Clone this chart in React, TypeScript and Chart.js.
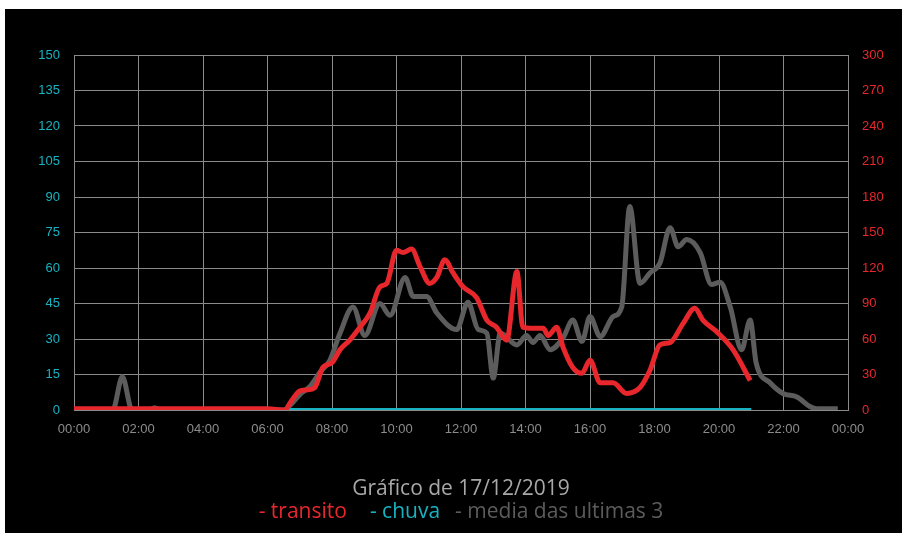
import React, { useEffect, useRef } from "react";
import { Chart, registerables } from "chart.js";

Chart.register(...registerables);

// ---- data ----
const chartTitle = "Gráfico de 17/12/2019";
const legendLabels = ["- transito", "- chuva", "- media das ultimas 3"];

const xTickLabels = ["00:00", "02:00", "04:00", "06:00", "08:00", "10:00", "12:00", "14:00", "16:00", "18:00", "20:00", "22:00", "00:00"];
const leftTicks = [0, 15, 30, 45, 60, 75, 90, 105, 120, 135, 150];
const rightTicks = [0, 30, 60, 90, 120, 150, 180, 210, 240, 270, 300];

const transitoTimes = ["00:00", "02:00", "04:00", "06:00", "06:33", "06:42", "07:00", "07:13", "07:28", "07:43", "08:00", "08:15", "08:33", "08:52", "09:11", "09:29", "09:42", "10:00", "10:12", "10:28", "10:44", "11:02", "11:15", "11:30", "11:45", "12:04", "12:29", "12:48", "13:06", "13:25", "13:44", "13:55", "14:14", "14:33", "14:42", "14:58", "15:10", "15:28", "15:45", "16:00", "16:19", "16:43", "17:08", "17:33", "17:52", "18:10", "18:29", "18:53", "19:15", "19:30", "19:56", "20:26", "20:58"];
const transitoValues = [1, 1, 1, 1, 0, 6, 16, 17, 19, 36, 40, 51, 59, 70, 82, 104, 107, 135, 133, 136, 121, 107, 112, 127, 116, 104, 95, 76, 70, 59, 117, 70, 69, 69, 63, 70, 53, 36, 31, 42, 23, 23, 14, 19, 34, 55, 57, 73, 86, 76, 66, 51, 25];

const chuvaTimes = ["06:36", "07:00", "08:00", "09:00", "10:00", "11:00", "12:00", "13:00", "14:00", "15:00", "16:00", "17:00", "18:00", "19:00", "20:00", "21:00"];
const chuvaValues = [0, 0, 0, 0, 0, 0, 0, 0, 0, 0, 0, 0, 0, 0, 0, 0];

const mediaTimes = ["00:00", "01:12", "01:30", "01:48", "02:20", "02:30", "02:40", "06:30", "06:42", "07:00", "07:19", "07:38", "07:56", "08:15", "08:39", "09:01", "09:29", "09:48", "10:16", "10:31", "10:56", "11:15", "11:52", "12:13", "12:32", "12:48", "13:00", "13:13", "13:44", "14:02", "14:14", "14:27", "14:46", "15:10", "15:28", "15:45", "16:00", "16:19", "16:43", "16:59", "17:14", "17:33", "17:52", "18:10", "18:29", "18:44", "19:00", "19:25", "19:46", "20:02", "20:21", "20:42", "20:58", "21:09", "21:35", "21:59", "22:25", "22:49", "23:02", "23:41"];
const mediaValues = [0, 0, 28, 0, 0, 2, 0, 0, 4, 13, 20, 32, 42, 65, 87, 63, 90, 80, 112, 96, 96, 82, 68, 91, 68, 65, 27, 65, 55, 63, 57, 63, 51, 61, 76, 58, 79, 62, 79, 87, 172, 107, 116, 124, 154, 138, 144, 133, 106, 108, 87, 51, 76, 40, 23, 14, 11, 3, 1, 1];

// ---- colours ----
const RED = "#e8272d";
const CYAN = "#18b2c1";
const GREY = "#5c5c5c";
const GRID = "#8a8a8a";

const toMin = (s: string) => {
  const [h, m] = s.split(":").map(Number);
  return h * 60 + m;
};
const pts = (times: string[], vals: number[]) => times.map((t, i) => ({ x: toMin(t), y: vals[i] }));

const captionPlugin = {
  id: "caption",
  afterDraw(chart: any) {
    const ctx = chart.ctx as CanvasRenderingContext2D;
    const ca = chart.chartArea;
    const cx = (ca.left + ca.right) / 2;
    ctx.save();
    ctx.font = '21px "Open Sans"';
    ctx.textBaseline = "alphabetic";
    ctx.textAlign = "center";
    ctx.fillStyle = "#a8a8a8";
    ctx.fillText(chartTitle, cx, 486);
    const colors = [RED, CYAN, GREY];
    const gaps = [23, 15];
    const widths = legendLabels.map((l) => ctx.measureText(l).width);
    const total = widths.reduce((a, b) => a + b, 0) + gaps.reduce((a, b) => a + b, 0);
    let x = cx - total / 2;
    ctx.textAlign = "left";
    legendLabels.forEach((l, i) => {
      ctx.fillStyle = colors[i];
      ctx.fillText(l, x, 509);
      x += widths[i] + (gaps[i] || 0);
    });
    ctx.restore();
  },
};

export default function App() {
  const ref = useRef<HTMLCanvasElement>(null);
  useEffect(() => {
    if (!ref.current) return;
    const tickFont = { family: '"Liberation Sans", Arial, sans-serif', size: 13 };
    const chart = new Chart(ref.current, {
      type: "line",
      data: {
        datasets: [
          {
            label: legendLabels[0],
            data: pts(transitoTimes, transitoValues),
            borderColor: RED,
            backgroundColor: RED,
            borderWidth: 5,
            pointRadius: 0,
            cubicInterpolationMode: "monotone",
            yAxisID: "yRight",
          },
          {
            label: legendLabels[1],
            data: pts(chuvaTimes, chuvaValues),
            borderColor: CYAN,
            backgroundColor: CYAN,
            borderWidth: 4,
            pointRadius: 0,
            yAxisID: "yLeft",
          },
          {
            label: legendLabels[2],
            data: pts(mediaTimes, mediaValues),
            borderColor: GREY,
            backgroundColor: GREY,
            borderWidth: 5,
            pointRadius: 0,
            cubicInterpolationMode: "monotone",
            yAxisID: "yRight",
          },
        ],
      },
      options: {
        animation: false,
        responsive: true,
        maintainAspectRatio: false,
        layout: { padding: { top: 46, left: 0, right: 0, bottom: 0 } },
        plugins: {
          legend: { display: false },
          title: { display: false },
          tooltip: { enabled: false },
        },
        scales: {
          x: {
            type: "linear",
            min: 0,
            max: 1440,
            afterBuildTicks: (s: any) => {
              s.ticks = xTickLabels.map((_, i) => ({ value: i * 120 }));
            },
            ticks: {
              color: "#8c8c8c",
              font: tickFont,
              padding: 12,
              maxRotation: 0,
              autoSkip: false,
              callback: (v: any) => xTickLabels[Math.round(Number(v) / 120)],
            },
            grid: { color: GRID, drawTicks: false, lineWidth: 1 },
            border: { color: GRID },
            afterFit: (s: any) => {
              s.height = 123;
            },
          },
          yLeft: {
            type: "linear",
            position: "left",
            min: 0,
            max: 150,
            afterBuildTicks: (s: any) => {
              s.ticks = leftTicks.map((v) => ({ value: v }));
            },
            ticks: { color: CYAN, font: tickFont, padding: 14 },
            grid: { color: GRID, drawTicks: false, lineWidth: 1 },
            border: { color: GRID },
            afterFit: (s: any) => {
              s.width = 69;
            },
          },
          yRight: {
            type: "linear",
            position: "right",
            min: 0,
            max: 300,
            afterBuildTicks: (s: any) => {
              s.ticks = rightTicks.map((v) => ({ value: v }));
            },
            ticks: { color: RED, font: tickFont, padding: 14 },
            grid: { drawOnChartArea: false, drawTicks: false },
            border: { color: GRID },
            afterFit: (s: any) => {
              s.width = 54;
            },
          },
        },
      },
      plugins: [captionPlugin],
    });
    return () => chart.destroy();
  }, []);

  return (
    <div style={{ position: "absolute", left: 5, top: 9, width: 897, height: 524, background: "#000" }}>
      <canvas ref={ref} />
    </div>
  );
}
